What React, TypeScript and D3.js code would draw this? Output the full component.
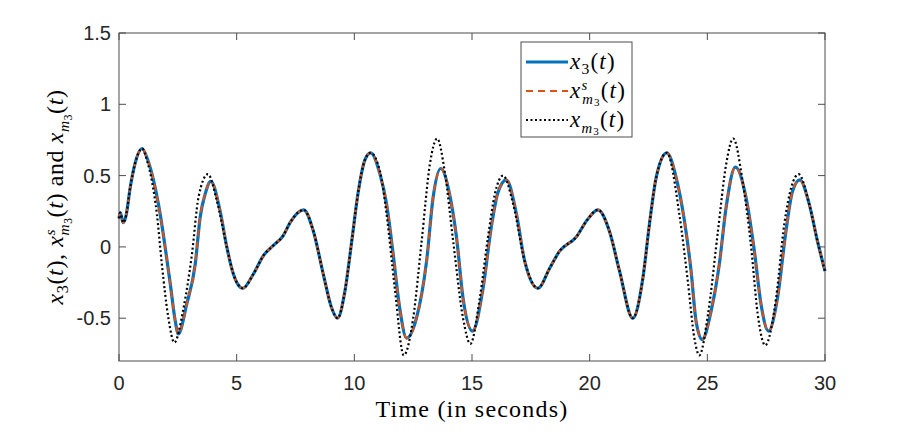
import React, { useEffect, useRef } from "react";
import * as d3 from "d3";

// x_3(t) (time in seconds, value)
const x3T = [
  0, 0.05, 0.18, 0.3, 0.48, 0.69, 0.98, 1.2, 1.47, 1.75, 1.96, 2.18, 2.39, 2.52,
  2.88, 3.24, 3.45, 3.66, 3.9, 4.3, 4.58, 4.86, 5.26, 5.71, 6.14, 6.56, 6.98,
  7.27, 7.6, 7.85, 8.26, 8.68, 9.04, 9.29, 9.6, 9.89, 10.17, 10.45, 10.69, 11.09,
  11.37, 11.65, 11.93, 12.22, 12.64, 13.07, 13.35, 13.67, 14.06, 14.34, 14.62,
  15.02, 15.47, 15.82, 16.1, 16.46, 16.89, 17.24, 17.8, 18.3, 18.72, 19.43, 19.9,
  20.35, 20.84, 21.27, 21.83, 22.26, 22.54, 22.83, 23.28, 23.67, 24.03, 24.31,
  24.52, 24.78, 25.16, 25.51, 25.8, 26.19, 26.64, 27.0, 27.28, 27.6, 27.98, 28.34,
  28.62, 28.93, 29.33, 29.68, 30,
];
const x3Y = [
  0.2, 0.24, 0.17, 0.22, 0.42, 0.59, 0.69, 0.62, 0.465, 0.23, 0.0, -0.26, -0.52,
  -0.61, -0.4, -0.12, 0.21, 0.37, 0.46, 0.25, 0.0, -0.19, -0.29, -0.19, -0.06,
  0.01, 0.08, 0.17, 0.24, 0.26, 0.11, -0.19, -0.43, -0.5, -0.31, 0.04, 0.39, 0.61,
  0.66, 0.51, 0.3, -0.05, -0.43, -0.64, -0.5, -0.1, 0.35, 0.55, 0.36, 0.07, -0.36,
  -0.59, -0.29, 0.14, 0.38, 0.47, 0.23, -0.1, -0.29, -0.15, -0.03, 0.07, 0.19,
  0.26, 0.11, -0.17, -0.5, -0.22, 0.16, 0.49, 0.66, 0.49, 0.18, -0.17, -0.52,
  -0.65, -0.45, -0.12, 0.28, 0.56, 0.35, -0.03, -0.4, -0.59, -0.36, 0.11, 0.39,
  0.47, 0.3, 0.04, -0.17,
];

// x^s_{m_3}(t) lies on top of x_3(t) in the figure
const xsT = x3T;
const xsY = x3Y;

// x_{m_3}(t)
const xmT = [
  0, 0.05, 0.18, 0.3, 0.48, 0.69, 0.98, 1.2, 1.4, 1.61, 1.82, 2.1, 2.35, 2.74,
  3.1, 3.38, 3.78, 4.15, 4.58, 4.86, 5.26, 5.71, 6.14, 6.56, 6.98, 7.27, 7.6,
  7.85, 8.26, 8.68, 9.04, 9.29, 9.6, 9.89, 10.17, 10.45, 10.69, 11.09, 11.37,
  11.72, 12.1, 12.5, 12.86, 13.21, 13.52, 13.84, 14.2, 14.62, 14.93, 15.33, 15.68,
  15.97, 16.32, 16.75, 17.24, 17.8, 18.3, 18.72, 19.43, 19.9, 20.35, 20.84, 21.27,
  21.83, 22.26, 22.54, 22.83, 23.28, 23.81, 24.17, 24.45, 24.66, 25.03, 25.45,
  25.8, 26.1, 26.5, 26.86, 27.14, 27.46, 27.92, 28.27, 28.88, 29.33, 29.68, 30,
];
const xmY = [
  0.2, 0.24, 0.17, 0.22, 0.42, 0.59, 0.69, 0.6, 0.46, 0.23, -0.12, -0.5, -0.67,
  -0.43, -0.05, 0.35, 0.51, 0.33, 0.0, -0.19, -0.29, -0.19, -0.06, 0.01, 0.08,
  0.17, 0.24, 0.26, 0.11, -0.19, -0.43, -0.5, -0.31, 0.04, 0.39, 0.61, 0.66, 0.53,
  0.23, -0.29, -0.76, -0.5, 0.04, 0.58, 0.76, 0.53, 0.04, -0.5, -0.68, -0.36, 0.07,
  0.37, 0.5, 0.3, -0.1, -0.29, -0.15, -0.03, 0.07, 0.19, 0.26, 0.11, -0.17, -0.5,
  -0.22, 0.16, 0.49, 0.66, 0.23, -0.24, -0.64, -0.76, -0.47, 0.11, 0.58, 0.76,
  0.46, 0.0, -0.47, -0.69, -0.36, 0.16, 0.51, 0.3, 0.04, -0.17,
];

const xTicks = [0, 5, 10, 15, 20, 25, 30];
const yTicks = [-0.5, 0, 0.5, 1, 1.5];

// label pieces; size and shift are fractions of the base font size
type Seg = { t: string; it?: boolean; shift?: number; size?: number; dx?: number };

const labX3: Seg[] = [
  { t: "x", it: true },
  { t: "3", shift: -0.22, size: 0.68 },
  { t: "(" },
  { t: "t", it: true },
  { t: ")" },
];
const labXs: Seg[] = [
  { t: "x", it: true },
  { t: "s", it: true, shift: 0.34, size: 0.64 },
  { t: "m", it: true, shift: -0.24, size: 0.64, dx: -0.27 },
  { t: "3", shift: -0.36, size: 0.48 },
  { t: "(" },
  { t: "t", it: true },
  { t: ")" },
];
const labXm: Seg[] = [
  { t: "x", it: true },
  { t: "m", it: true, shift: -0.24, size: 0.64 },
  { t: "3", shift: -0.36, size: 0.48 },
  { t: "(" },
  { t: "t", it: true },
  { t: ")" },
];

function writeSegs(
  text: d3.Selection<SVGTextElement, unknown, null, undefined>,
  segs: Seg[],
  fs: number
) {
  segs.forEach((s) => {
    const ts = text.append("tspan").text(s.t);
    if (s.it) ts.attr("font-style", "italic");
    if (s.size) ts.attr("font-size", s.size * fs);
    if (s.shift) ts.attr("baseline-shift", s.shift * fs);
    if (s.dx) ts.attr("dx", s.dx * fs);
  });
}

export default function App() {
  const svgRef = useRef<SVGSVGElement>(null);

  useEffect(() => {
    if (!svgRef.current) return;
    const svg = d3.select(svgRef.current);
    svg.selectAll("*").remove();

    const left = 119,
      right = 825,
      top = 33,
      bottom = 361;
    const x = d3.scaleLinear().domain([0, 30]).range([left, right]);
    const y = d3.scaleLinear().domain([-0.8, 1.5]).range([bottom, top]);
    const axisColor = "#4d4d4d";
    const tickFont = "'Liberation Sans', Arial, sans-serif";
    const serif = "'Liberation Serif', 'Times New Roman', serif";

    // Box
    svg
      .append("rect")
      .attr("x", left)
      .attr("y", top)
      .attr("width", right - left)
      .attr("height", bottom - top)
      .attr("fill", "white")
      .attr("stroke", axisColor)
      .attr("stroke-width", 1);

    // Ticks (inward, all four sides)
    const tickLen = 7;
    xTicks.forEach((t) => {
      svg.append("line").attr("x1", x(t)).attr("x2", x(t))
        .attr("y1", bottom).attr("y2", bottom - tickLen)
        .attr("stroke", axisColor);
      svg.append("line").attr("x1", x(t)).attr("x2", x(t))
        .attr("y1", top).attr("y2", top + tickLen)
        .attr("stroke", axisColor);
      svg.append("text")
        .attr("x", x(t))
        .attr("y", bottom + 29)
        .attr("text-anchor", "middle")
        .attr("font-family", tickFont)
        .attr("font-size", 20)
        .attr("fill", "#262626")
        .text(t);
    });
    yTicks.forEach((v) => {
      svg.append("line").attr("x1", left).attr("x2", left + tickLen)
        .attr("y1", y(v)).attr("y2", y(v))
        .attr("stroke", axisColor);
      svg.append("line").attr("x1", right).attr("x2", right - tickLen)
        .attr("y1", y(v)).attr("y2", y(v))
        .attr("stroke", axisColor);
      svg.append("text")
        .attr("x", left - 8)
        .attr("y", y(v) + 7)
        .attr("text-anchor", "end")
        .attr("font-family", tickFont)
        .attr("font-size", 20)
        .attr("fill", "#262626")
        .text(v);
    });

    const line = d3
      .line<[number, number]>()
      .x((d) => x(d[0]))
      .y((d) => y(d[1]))
      .curve(d3.curveMonotoneX);

    const g = svg.append("g");
    g.append("path")
      .attr("d", line(x3T.map((t, i) => [t, x3Y[i]]) as [number, number][]))
      .attr("fill", "none")
      .attr("stroke", "#0072BD")
      .attr("stroke-width", 3.2);
    g.append("path")
      .attr("d", line(xsT.map((t, i) => [t, xsY[i]]) as [number, number][]))
      .attr("fill", "none")
      .attr("stroke", "#D95319")
      .attr("stroke-width", 2)
      .attr("stroke-dasharray", "7,5");
    g.append("path")
      .attr("d", line(xmT.map((t, i) => [t, xmY[i]]) as [number, number][]))
      .attr("fill", "none")
      .attr("stroke", "#000")
      .attr("stroke-width", 2.2)
      .attr("stroke-dasharray", "2,2.5");

    // Legend
    const lg = svg.append("g");
    lg.append("rect")
      .attr("x", 521)
      .attr("y", 42)
      .attr("width", 111)
      .attr("height", 95)
      .attr("fill", "white")
      .attr("stroke", axisColor)
      .attr("stroke-width", 1);
    const rows = [
      { color: "#0072BD", w: 3.2, dash: null, lab: labX3 },
      { color: "#D95319", w: 2, dash: "7,5", lab: labXs },
      { color: "#000", w: 2.2, dash: "2,2.5", lab: labXm },
    ];
    const legFs = 23;
    rows.forEach((r, i) => {
      const cy = 62 + i * 29;
      const ln = lg.append("line")
        .attr("x1", 526).attr("x2", 568)
        .attr("y1", cy).attr("y2", cy)
        .attr("stroke", r.color)
        .attr("stroke-width", r.w);
      if (r.dash) ln.attr("stroke-dasharray", r.dash);
      const tx = lg.append("text")
        .attr("x", 570)
        .attr("y", cy + 7)
        .attr("font-family", serif)
        .attr("font-size", legFs)
        .attr("letter-spacing", 1.2)
        .attr("fill", "#000");
      writeSegs(tx, r.lab, legFs);
    });

    // Axis labels
    svg.append("text")
      .attr("x", (left + right) / 2)
      .attr("y", 417)
      .attr("text-anchor", "middle")
      .attr("font-family", serif)
      .attr("font-size", 24)
      .attr("letter-spacing", 1.2)
      .attr("fill", "#000")
      .text("Time (in seconds)");

    const ylFs = 24;
    const yl = svg.append("text")
      .attr("transform", `translate(63, ${(top + bottom) / 2}) rotate(-90)`)
      .attr("text-anchor", "middle")
      .attr("font-family", serif)
      .attr("font-size", ylFs)
      .attr("letter-spacing", 0.6)
      .attr("fill", "#000");
    writeSegs(
      yl,
      [...labX3, { t: ", " }, ...labXs, { t: " and " }, ...labXm],
      ylFs
    );
  }, []);

  return (
    <svg
      ref={svgRef}
      width={911}
      height={438}
      style={{ position: "absolute", left: 0, top: 0, background: "white" }}
    />
  );
}
